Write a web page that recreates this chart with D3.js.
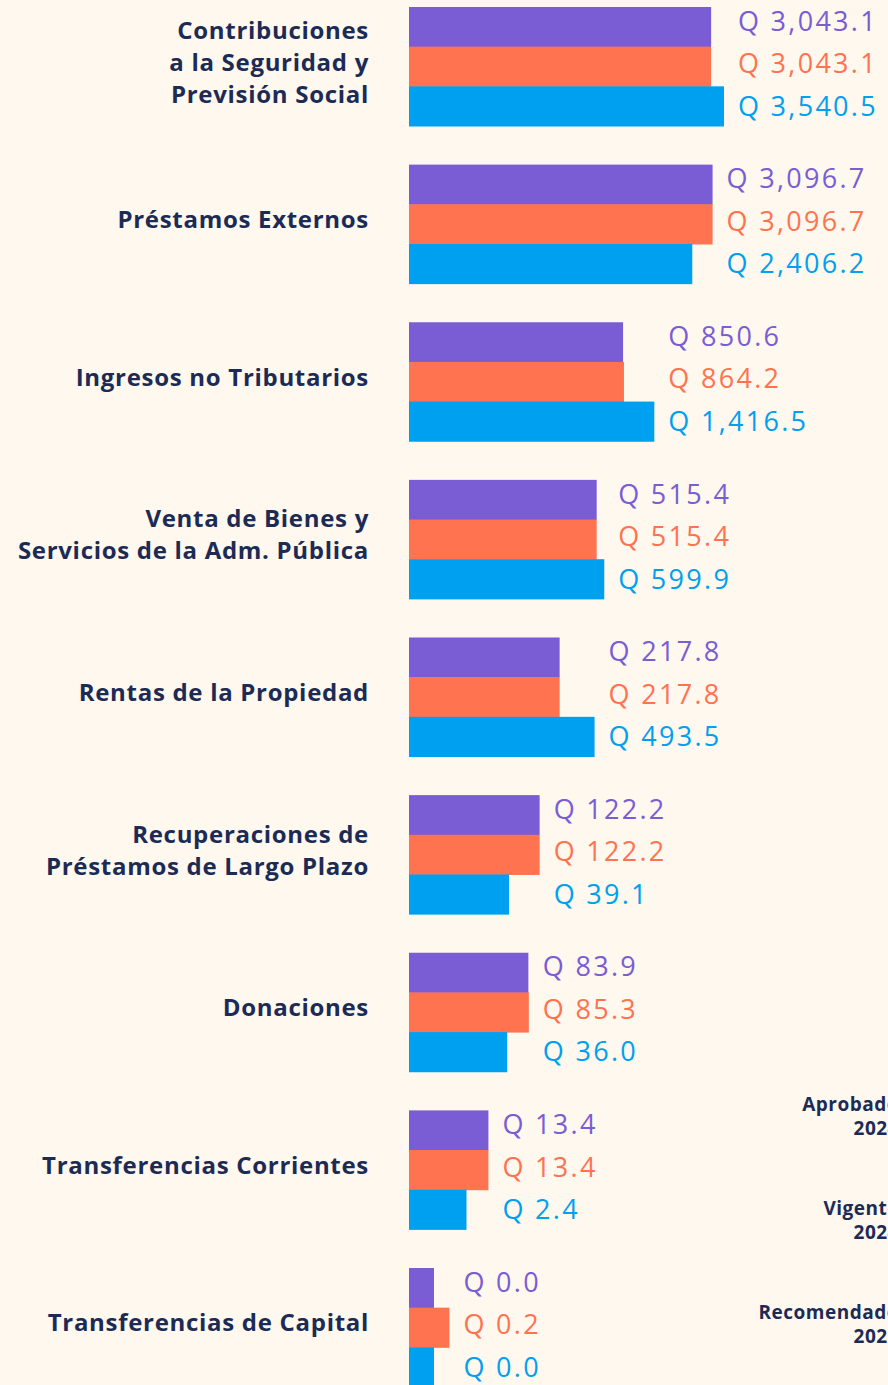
<!DOCTYPE html>
<html lang="es">
<head>
    <meta charset="UTF-8">
    <title>Ingresos</title>
    <script src="https://d3js.org/d3.v7.min.js"></script>
    <style>
        body{
            margin:0;
            background:#fef8ee;
        }
        .cat{
            font-family: "Open Sans", sans-serif;
            font-weight: 700;
            font-size: 24px;
            letter-spacing: 0.7px;
            fill:#1c2b55;
        }
        .val{
            font-family: "Open Sans", sans-serif;
            font-size: 27px;
            letter-spacing: 2.3px;
        }
        .legend{
            font-family: "Open Sans", sans-serif;
            font-weight: 700;
            font-size: 19px;
            letter-spacing: 0.5px;
            fill:#1c2b55;
        }
    </style>
</head>
<body>
<svg width="888" height="1385"></svg>
<script>
    // categories, top to bottom (lines split for the labels)
    const categories = [
        ["Contribuciones", "a la Seguridad y", "Previsión Social"],
        ["Préstamos Externos"],
        ["Ingresos no Tributarios"],
        ["Venta de Bienes y", "Servicios de la Adm. Pública"],
        ["Rentas de la Propiedad"],
        ["Recuperaciones de", "Préstamos de Largo Plazo"],
        ["Donaciones"],
        ["Transferencias Corrientes"],
        ["Transferencias de Capital"]
    ]
    const seriesNames = [["Aprobado", "2024"], ["Vigente", "2024"], ["Recomendado", "2025"]]
    const colors = ["#7a5cd4", "#ff7350", "#00a0f0"]

    // millones de quetzales
    const aprobado2024 = [3043.1, 3096.7, 850.6, 515.4, 217.8, 122.2, 83.9, 13.4, 0.0]
    const vigente2024 = [3043.1, 3096.7, 864.2, 515.4, 217.8, 122.2, 85.3, 13.4, 0.2]
    const recomendado2025 = [3540.5, 2406.2, 1416.5, 599.9, 493.5, 39.1, 36.0, 2.4, 0.0]

    const series = [aprobado2024, vigente2024, recomendado2025]
    const fmt = d3.format(",.1f")

    const svg = d3.select("svg")
    svg.append("rect").attr("width", 888).attr("height", 1385).attr("fill", "#fef8ee")

    const x0 = 409
    // compressed scale so that the small values still show a bar
    const x = d3.scalePow().exponent(0.3)
        .domain([0, d3.max(series.flat())])
        .range([x0 + 25, 724])

    const y = d3.scaleBand()
        .domain(d3.range(categories.length))
        .range([7, 1387])
        .paddingInner(0.245)
        .paddingOuter(0)

    const ySub = d3.scaleBand()
        .domain(d3.range(series.length))
        .range([0, y.bandwidth()])

    const groups = svg.selectAll(".group")
        .data(categories.map((c, i) => ({lines: c, vals: series.map(s => s[i]), i: i})))
        .enter()
        .append("g")
        .attr("transform", d => `translate(0,${y(d.i)})`)

    groups.selectAll("rect.bar")
        .data(d => d.vals)
        .enter()
        .append("rect")
        .attr("class", "bar")
        .attr("x", x0)
        .attr("y", (v, j) => ySub(j))
        .attr("width", v => x(v) - x0)
        .attr("height", ySub.bandwidth() + 0.5)
        .attr("fill", (v, j) => colors[j])

    // value labels, aligned after the longest bar of the group
    groups.each(function (d) {
        const g = d3.select(this)
        const lx = x(d3.max(d.vals)) + 14
        const mid = y.bandwidth() / 2 - 3
        g.selectAll("text.val")
            .data(d.vals)
            .enter()
            .append("text")
            .attr("class", "val")
            .attr("x", lx)
            .attr("y", (v, j) => mid + (j - 1) * 42.5)
            .attr("dy", "0.36em")
            .attr("fill", (v, j) => colors[j])
            .text(v => "Q " + fmt(v))
    })

    // category labels
    groups.append("text")
        .attr("class", "cat")
        .attr("text-anchor", "end")
        .attr("x", 369)
        .attr("y", d => y.bandwidth() / 2 + 4 - (d.lines.length - 1) * 16)
        .attr("dy", "0.36em")
        .selectAll("tspan")
        .data(d => d.lines)
        .enter()
        .append("tspan")
        .attr("x", 369)
        .attr("dy", (t, k) => k === 0 ? 0 : 32)
        .text(t => t)

    // legend (cut off by the right edge, as in the original)
    const legend = svg.selectAll(".legend")
        .data(seriesNames)
        .enter()
        .append("text")
        .attr("class", "legend")
        .attr("text-anchor", "end")
        .attr("y", (d, i) => 1111 + i * 104)
    legend.selectAll("tspan")
        .data(d => d)
        .enter()
        .append("tspan")
        .attr("x", 899)
        .attr("dy", (t, k) => k === 0 ? 0 : 23.5)
        .text(t => t)
</script>
</body>
</html>
